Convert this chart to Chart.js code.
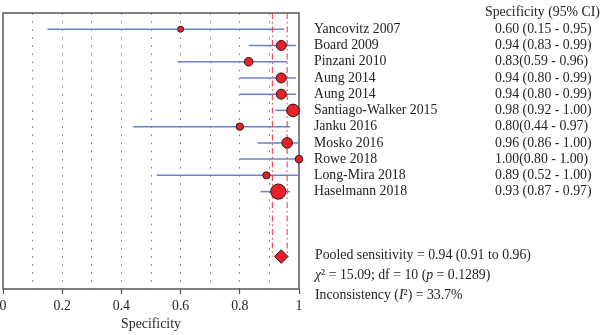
<!DOCTYPE html>
<html>
<head>
<meta charset="utf-8">
<script src="https://cdn.jsdelivr.net/npm/chart.js@4/dist/chart.umd.min.js"></script>
<style>
  html,body{margin:0;padding:0;background:#fff;}
  #wrap{width:600px;height:335px;}
</style>
</head>
<body>
<div id="wrap"><canvas id="forest" width="600" height="335"></canvas></div>
<script>
// study data
const studies = ["Yancovitz 2007","Board 2009","Pinzani 2010","Aung 2014","Aung 2014",
  "Santiago-Walker 2015","Janku 2016","Mosko 2016","Rowe 2018","Long-Mira 2018","Haselmann 2018"];
const estimates = [0.60,0.94,0.83,0.94,0.94,0.98,0.80,0.96,1.00,0.89,0.93];
const ciLow     = [0.15,0.83,0.59,0.80,0.80,0.92,0.44,0.86,0.80,0.52,0.87];
const ciHigh    = [0.95,0.99,0.96,0.99,0.99,1.00,0.97,1.00,1.00,1.00,0.97];
const ciText = ["0.60 (0.15 - 0.95)","0.94 (0.83 - 0.99)","0.83(0.59 - 0.96)","0.94 (0.80 - 0.99)",
  "0.94 (0.80 - 0.99)","0.98 (0.92 - 1.00)","0.80(0.44 - 0.97)","0.96 (0.86 - 1.00)",
  "1.00(0.80 - 1.00)","0.89 (0.52 - 1.00)","0.93 (0.87 - 0.97)"];
const pooled = 0.94, pooledLow = 0.91, pooledHigh = 0.96;
const pooledRow = 14;
const tickLabels = ["0","0.2","0.4","0.6","0.8","1"];

// marker sizes (study weight)
const markerRadius = [3,5,4.3,5,5,6.3,3.7,5.3,3.8,3.6,7.6];

const SERIF = '"Liberation Serif","DejaVu Serif",serif';
const FS = 13.8;
const rows = studies.map((s,i)=>i);

const datasets = [];
datasets.push({
  type:'scatter', order:0, clip:false,
  data: estimates.map((v,i)=>({x:v,y:rows[i]})),
  pointRadius: markerRadius, pointHoverRadius: markerRadius,
  backgroundColor:'#e8202a', borderColor:'#2a1515', borderWidth:1
});
datasets.push({
  type:'scatter', order:0, clip:false,
  data:[{x:pooled,y:pooledRow}],
  pointStyle:'rectRot', pointRadius:6.8,
  backgroundColor:'#e8202a', borderColor:'#2a1515', borderWidth:1
});
// confidence intervals
rows.forEach(i=>{
  datasets.push({
    type:'line', order:2,
    data:[{x:ciLow[i],y:i},{x:ciHigh[i],y:i}],
    borderColor:'#6b82cb', borderWidth:1.5, pointRadius:0
  });
});
// pooled CI guides
[pooledLow,pooledHigh].forEach(v=>{
  datasets.push({
    type:'line', order:1,
    data:[{x:v,y:-1},{x:v,y:pooledRow}],
    borderColor:'#f0303c', borderWidth:1, borderDash:[6,3,1.5,3], pointRadius:0
  });
});

function drawRich(ctx,x,y,parts){
  parts.forEach(p=>{
    ctx.font = (p[1]?'italic ':'')+FS+'px '+SERIF;
    ctx.fillText(p[0],x,y);
    x += ctx.measureText(p[0]).width;
  });
}

const frame = {
  id:'frame',
  beforeDatasetsDraw(chart){
    const {ctx,chartArea:a} = chart;
    ctx.save();
    ctx.strokeStyle='#555';
    ctx.lineWidth=1.5;
    ctx.strokeRect(a.left,a.top,a.right-a.left,a.bottom-a.top);
    ctx.restore();
  }
};

const sideText = {
  id:'sideText',
  afterDraw(chart){
    const ctx = chart.ctx, y = chart.scales.y;
    ctx.save();
    ctx.fillStyle='#222';
    ctx.textBaseline='middle';
    ctx.font=FS+'px '+SERIF;
    ctx.fillText('Specificity (95% CI)',485,12);
    rows.forEach(i=>{
      const py = y.getPixelForValue(i);
      ctx.fillText(studies[i],314,py);
      ctx.fillText(ciText[i],495,py);
    });
    const py = y.getPixelForValue(pooledRow);
    ctx.fillText('Pooled sensitivity = 0.94 (0.91 to 0.96)',315,py-1);
    drawRich(ctx,315,py+19,[['χ',true],['² = 15.09; df = 10 (',false],['p',true],[' = 0.1289)',false]]);
    drawRich(ctx,315,py+39,[['Inconsistency (',false],['I',true],['²) = 33.7%',false]]);
    ctx.restore();
  }
};

new Chart(document.getElementById('forest'),{
  type:'scatter',
  data:{datasets:datasets},
  options:{
    responsive:false,
    animation:false,
    events:[],
    layout:{autoPadding:false, padding:{left:3,right:301,top:13,bottom:0}},
    plugins:{legend:{display:false},tooltip:{enabled:false}},
    scales:{
      x:{
        type:'linear', min:0, max:1,
        afterFit(s){ s.height = 46; s.paddingLeft = 0; s.paddingRight = 0; },
        ticks:{
          stepSize:0.1, autoSkip:false, maxRotation:0, padding:4,
          color:'#222', font:{family:SERIF,size:FS},
          callback:(v)=>{
            const k = Math.round(v*10);
            return k%2===0 ? tickLabels[k/2] : '';
          }
        },
        grid:{
          drawTicks:true, tickLength:5,
          color:(c)=>{
            const v = c.tick ? c.tick.value : 0;
            return (v<=0.001||v>=0.999) ? 'rgba(0,0,0,0)' : '#7a7a7a';
          },
          tickColor:(c)=>{
            const k = c.tick ? Math.round(c.tick.value*10) : 1;
            return k%2===0 ? '#555' : 'rgba(0,0,0,0)';
          },
          tickBorderDash:[], tickWidth:1.2, lineWidth:1
        },
        border:{display:false, dash:[1.6,6.5]},
        title:{display:true,text:'Specificity',color:'#222',font:{family:SERIF,size:FS},padding:{top:2,bottom:2}}
      },
      y:{
        type:'linear', min:-1, max:16, reverse:true, display:false
      }
    }
  },
  plugins:[frame,sideText]
});
</script>
</body>
</html>
